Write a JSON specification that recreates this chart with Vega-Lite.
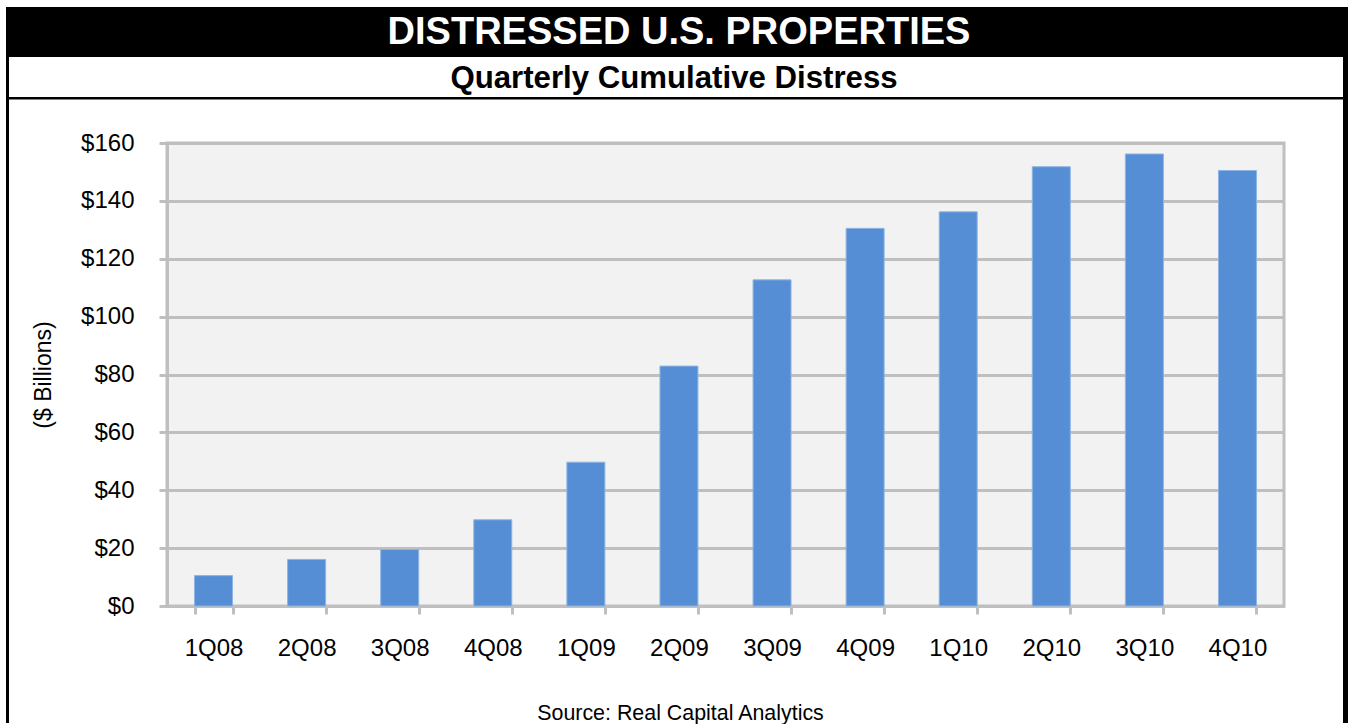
{
  "$schema": "https://vega.github.io/schema/vega-lite/v6.json",
  "padding": {"left": 6, "top": 7, "right": 3, "bottom": 0},
  "background": "white",
  "spacing": 0,
  "config": {
    "view": {"stroke": null},
    "font": "Liberation Sans",
    "axis": {"labelFont": "Liberation Sans", "titleFont": "Liberation Sans", "labelColor": "black", "titleColor": "black"},
    "title": {"font": "Liberation Sans", "color": "black"},
    "text": {"font": "Liberation Sans"}
  },
  "hconcat": [
    {
      "data": {"values": []},
      "mark": "point",
      "width": 3,
      "height": 716,
      "view": {"fill": "black", "stroke": null}
    },
    {
      "spacing": 29,
      "vconcat": [
        {
          "spacing": 0,
          "vconcat": [
            {
              "data": {"values": [{"t": "DISTRESSED U.S. PROPERTIES"}]},
              "mark": {"type": "text", "fontWeight": "bold", "fontSize": 38, "color": "white", "baseline": "middle", "align": "center", "dx": 3, "dy": 1},
              "encoding": {"text": {"field": "t", "type": "nominal"}},
              "width": 1334,
              "height": 50,
              "view": {"fill": "black", "stroke": null}
            },
            {
              "data": {"values": [{"t": "Quarterly Cumulative Distress"}]},
              "mark": {"type": "text", "fontWeight": "bold", "fontSize": 31.2, "color": "black", "baseline": "middle", "align": "center", "dx": -2, "dy": 2},
              "encoding": {"text": {"field": "t", "type": "nominal"}},
              "width": 1334,
              "height": 40,
              "view": {"fill": "white", "stroke": null}
            },
            {
              "data": {"values": []},
              "mark": "point",
              "width": 1334,
              "height": 2.5,
              "view": {"fill": "black", "stroke": null}
            }
          ]
        },
        {
          "spacing": 21,
          "hconcat": [
            {
              "data": {"values": []},
              "mark": "point",
              "width": 1,
              "height": 1
            },
            {
              "width": 1117,
              "height": 463,
              "view": {"fill": "#F2F2F2", "stroke": "#BFBFBF", "strokeWidth": 3},
              "data": {
                "values": [
                  {"quarter": "1Q08", "value": 10.5},
                  {"quarter": "2Q08", "value": 16.1},
                  {"quarter": "3Q08", "value": 19.5},
                  {"quarter": "4Q08", "value": 29.8},
                  {"quarter": "1Q09", "value": 49.7},
                  {"quarter": "2Q09", "value": 82.9},
                  {"quarter": "3Q09", "value": 112.7},
                  {"quarter": "4Q09", "value": 130.5},
                  {"quarter": "1Q10", "value": 136.2},
                  {"quarter": "2Q10", "value": 151.8},
                  {"quarter": "3Q10", "value": 156.2},
                  {"quarter": "4Q10", "value": 150.5}
                ]
              },
              "mark": {"type": "bar", "color": "#558ED5", "stroke": "#8DB4E2", "strokeWidth": 1},
              "encoding": {
                "x": {
                  "field": "quarter", "type": "nominal", "sort": null,
                  "scale": {"paddingInner": 0.592, "paddingOuter": 0.296},
                  "axis": {"title": null, "labelAngle": 0, "labelFontSize": 24, "labelPadding": 22, "tickBand": "extent", "tickSize": 8, "tickWidth": 3, "tickColor": "#BFBFBF", "domainColor": "#BFBFBF", "domainWidth": 3}
                },
                "y": {
                  "field": "value", "type": "quantitative",
                  "scale": {"domain": [0, 160], "nice": false},
                  "axis": {"title": "($ Billions)", "values": [0, 20, 40, 60, 80, 100, 120, 140, 160], "format": "$.0f", "labelFontSize": 24, "labelPadding": 25, "tickSize": 8, "tickWidth": 3, "tickColor": "#BFBFBF", "gridColor": "#BFBFBF", "gridWidth": 3, "domainColor": "#BFBFBF", "domainWidth": 3, "titleFontSize": 23, "titleFontWeight": "normal", "titlePadding": 25}
                }
              },
              "title": {"text": "Source: Real Capital Analytics", "orient": "bottom", "fontSize": 21.4, "fontWeight": "normal", "offset": 43, "dx": -45, "color": "black"}
            }
          ]
        }
      ]
    },
    {
      "data": {"values": []},
      "mark": "point",
      "width": 5,
      "height": 716,
      "view": {"fill": "black", "stroke": null}
    }
  ]
}
